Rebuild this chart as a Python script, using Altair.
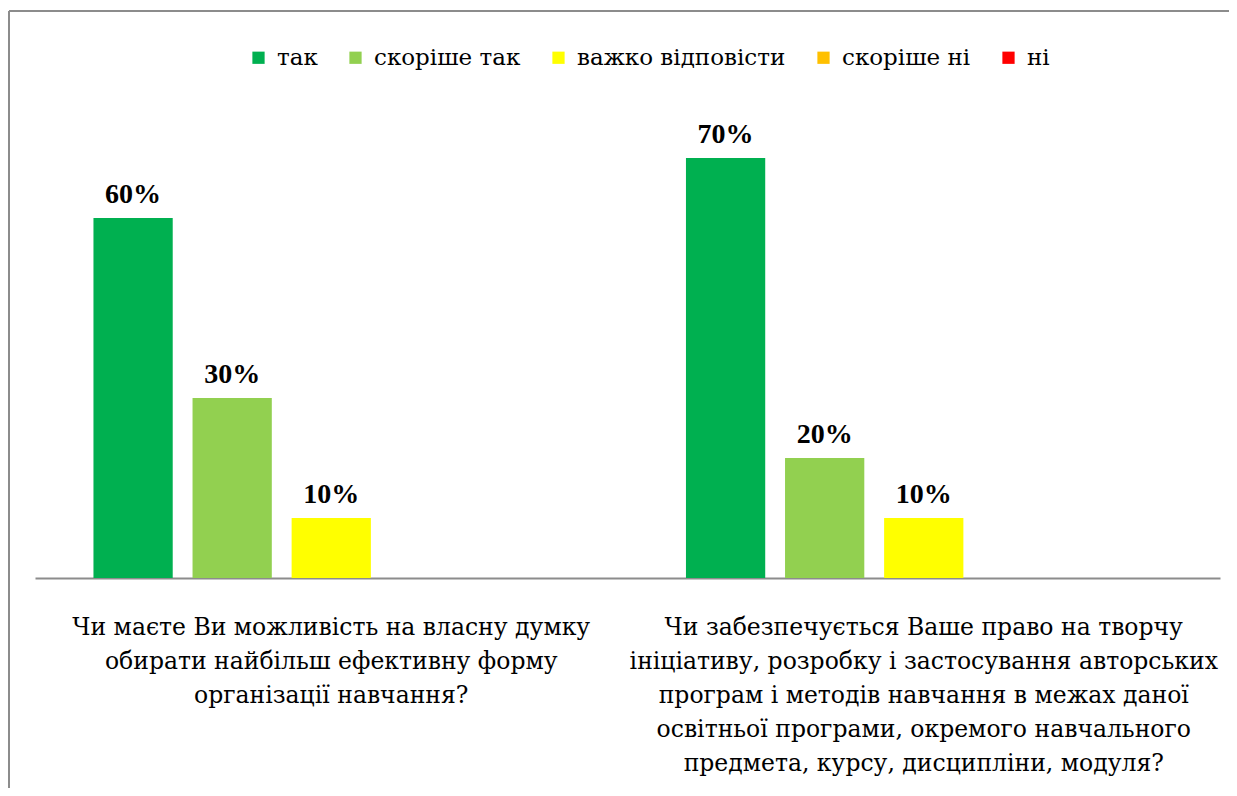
import altair as alt
import pandas as pd

categories = [
    "Чи маєте Ви можливість на власну думку|обирати найбільш ефективну форму|організації навчання?",
    "Чи забезпечується Ваше  право на творчу|ініціативу, розробку і застосування авторських|програм і методів навчання в межах даної|освітньої програми, окремого навчального|предмета, курсу, дисципліни, модуля?",
]
series = ["так", "скоріше так", "важко відповісти", "скоріше ні", "ні"]
colors = ["#00B050", "#92D050", "#FFFF00", "#FFC000", "#FF0000"]
values_q1 = [60, 30, 10, 0, 0]
values_q2 = [70, 20, 10, 0, 0]

rows = []
for cat, vals in zip(categories, [values_q1, values_q2]):
    for i, (s, v) in enumerate(zip(series, vals)):
        rows.append({"cat": cat, "series": s, "order": i, "value": v})
df = pd.DataFrame(rows)

FONT = "Liberation Serif"
CFONT = "DejaVu Serif"
W, H = 1185, 480

x_enc = alt.X("cat:N", sort=categories,
              scale=alt.Scale(paddingInner=0, paddingOuter=0),
              axis=alt.Axis(title=None, labelExpr="split(datum.label, '|')",
                            labelAngle=0, ticks=False, labelPadding=37,
                            labelFont=CFONT, labelFontSize=23.5, labelColor="#000000",
                            labelLineHeight=34, labelLimit=0, labelBaseline="top",
                            domainColor="#8c8c8c", domainWidth=2, grid=False))
xo_enc = alt.XOffset("series:N", sort=series,
                     scale=alt.Scale(paddingInner=0.2, paddingOuter=0.59))
y_enc = alt.Y("value:Q", scale=alt.Scale(domain=[0, 80]), axis=None)

bars = alt.Chart(df).mark_bar().encode(
    x=x_enc, xOffset=xo_enc, y=y_enc,
    color=alt.Color("series:N", sort=series,
                    scale=alt.Scale(domain=series, range=colors),
                    legend=alt.Legend(title=None, orient="none", direction="horizontal",
                                      legendX=212, legendY=-52, padding=0,
                                      symbolType="square", symbolSize=150,
                                      symbolStrokeWidth=0, labelFont=CFONT,
                                      labelFontSize=23, labelColor="#000000",
                                      labelOffset=7, columnPadding=26,
                                      labelLimit=0)),
)

labels = alt.Chart(df).transform_filter("datum.value > 0").transform_calculate(
    lab="datum.value + '%'"
).mark_text(font=FONT, fontSize=28, fontWeight="bold", color="#000000",
            baseline="alphabetic", dy=-15).encode(
    x=x_enc, xOffset=xo_enc, y=y_enc, text="lab:N"
)

frame_df = pd.DataFrame({"k": [0]})
top_line = alt.Chart(frame_df).mark_rule(color="#8c8c8c", strokeWidth=2).encode(
    x=alt.value(-26), x2=alt.value(W + 12), y=alt.value(-87))
left_line = alt.Chart(frame_df).mark_rule(color="#8c8c8c", strokeWidth=2).encode(
    x=alt.value(-26), y=alt.value(-87), y2=alt.value(H + 220))

chart = alt.layer(bars, labels, top_line, left_line).properties(
    width=W, height=H,
    padding={"left": 27, "top": 90, "right": 9, "bottom": 210},
    autosize=alt.AutoSizeParams(type="none"),
).configure(
    background="#ffffff", font=FONT,
).configure_view(stroke=None)

chart.save("out.html", embed_options={"renderer": "svg", "actions": False})
